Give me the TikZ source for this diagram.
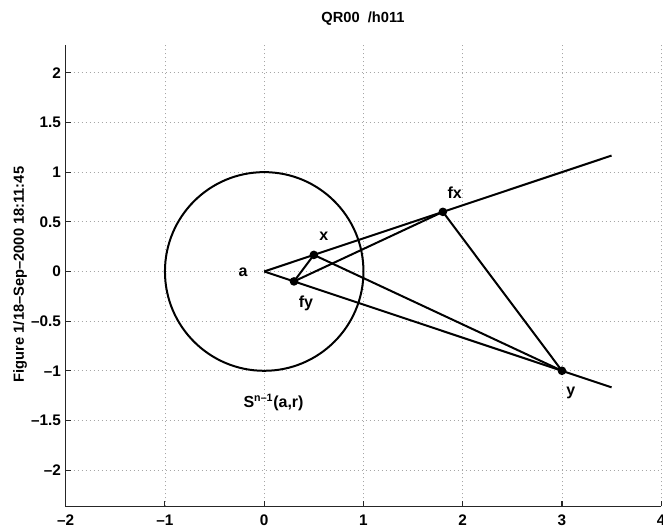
\documentclass[tikz,border=0pt]{standalone}
\usepackage{fontspec}
\setmainfont{Liberation Sans}
\begin{document}
\begin{tikzpicture}[x=74.44pt,y=74.5pt,
  font=\bfseries\fontsize{11}{13}\selectfont,
  gridline/.style={gray!70, line width=0.6pt, dash pattern=on 0.75pt off 2.25pt},
  axisline/.style={black!85, line width=1pt},
  tickmark/.style={black!85, line width=0.8pt},
  dataline/.style={black, line width=1.5pt},
  dot/.style={circle, fill=black, inner sep=0pt, minimum size=6.5pt},
  lbl/.style={inner sep=0pt},
  ticklbl/.style={inner sep=0pt, font=\bfseries\fontsize{11.5}{13}\selectfont}]
\useasboundingbox (-2.662,-2.574) rectangle (4.018,2.733);
% grid
\foreach \gx in {-1,0,1,2,3,4} \draw[gridline] (\gx,-2.365) -- (\gx,2.28);
\foreach \gy in {-2,-1.5,-1,-0.5,0,0.5,1,1.5,2} \draw[gridline] (-2,\gy) -- (4,\gy);
% axes
\coordinate (ax0) at (-2,-2.365);
\coordinate (axtop) at (-2,2.28);
\coordinate (axright) at (4,-2.365);
\draw[axisline] (axtop) -- (ax0) -- (axright);
% ticks
\foreach \gx/\t in {-2/{–2},-1/{–1},0/0,1/1,2/2,3/3,4/4} {
  \draw[tickmark] (\gx,-2.365) -- ++(0,0.05);
  \node[ticklbl] at (\gx,-2.503) {\t};
}
\foreach \gy/\t in {-2/{–2},-1.5/{–1.5},-1/{–1},-0.5/{–0.5},0/0,0.5/0.5,1/1,1.5/1.5,2/2} {
  \draw[tickmark] (-2,\gy) -- ++(0.05,0);
  \node[ticklbl, anchor=east] at (-2.045,\gy) {\t};
}
% title and y-label
\node[lbl] (title) at (0.995,2.542) {QR00\ \ /h011};
\node[lbl, rotate=90] (ylab) at (-2.46,-0.03) {Figure 1/18–Sep–2000 18:11:45};
% geometry
\coordinate (a) at (0,0);
\coordinate (px) at (0.5,0.16667);
\coordinate (pfy) at (0.3,-0.1);
\coordinate (pfx) at (1.8,0.6);
\coordinate (py) at (3,-1);
\coordinate (endu) at (3.5,1.16667);
\coordinate (endl) at (3.5,-1.16667);
\draw[dataline] (a) circle (1);
\draw[dataline] (a) -- (endu);
\draw[dataline] (a) -- (endl);
\draw[dataline] (px) -- (pfy);
\draw[dataline] (pfy) -- (pfx);
\draw[dataline] (px) -- (py);
\draw[dataline] (pfx) -- (py);
\node[dot] (dx) at (px) {};
\node[dot] (dfy) at (pfy) {};
\node[dot] (dfx) at (pfx) {};
\node[dot] (dy) at (py) {};
% labels
\node[lbl, font=\bfseries\fontsize{12}{14}\selectfont] (la) at (-0.214,-0.01) {a};
\node[lbl, font=\bfseries\fontsize{12}{14}\selectfont] (lx) at (0.60,0.35) {x};
\node[lbl, font=\bfseries\fontsize{12}{14}\selectfont] (lfy) at (0.42,-0.32) {fy};
\node[lbl, font=\bfseries\fontsize{12}{14}\selectfont] (lfx) at (1.92,0.79) {fx};
\node[lbl, font=\bfseries\fontsize{12}{14}\selectfont] (ly) at (3.09,-1.22) {y};
\node[lbl, font=\bfseries\fontsize{12}{14}\selectfont] (ls) at (0.094,-1.315) {S\textsuperscript{n–1}(a,r)};
\end{tikzpicture}
\end{document}
